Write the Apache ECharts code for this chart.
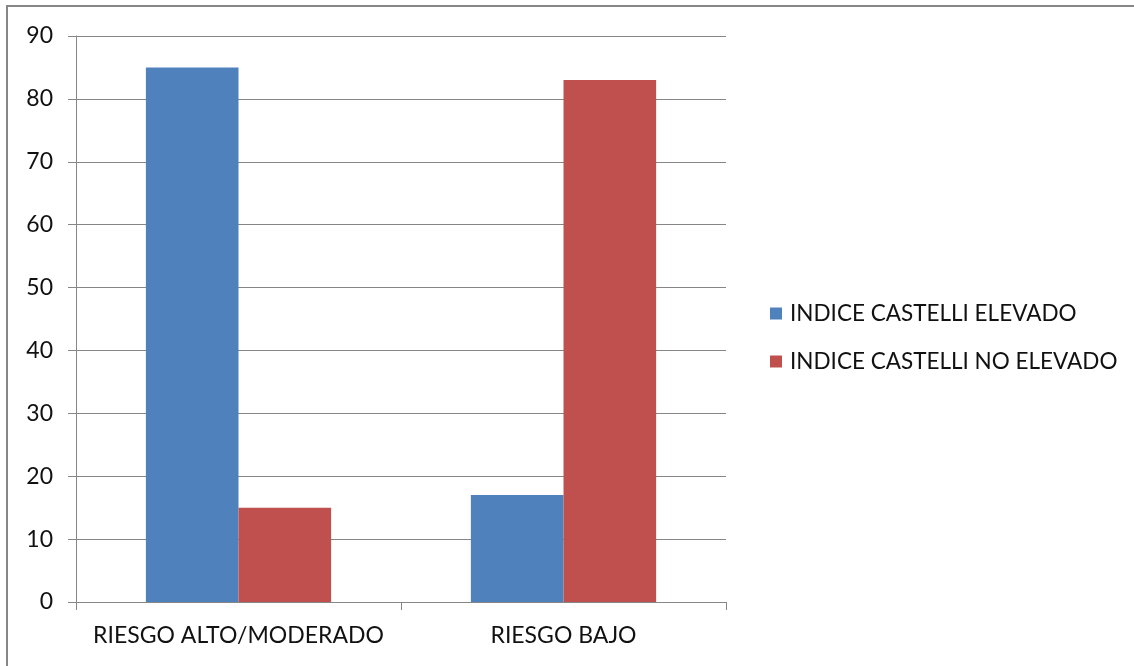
<!DOCTYPE html>
<html>
<head>
<meta charset="utf-8">
<script src="https://cdn.jsdelivr.net/npm/echarts@6/dist/echarts.min.js"></script>
<style>
  html, body { margin: 0; padding: 0; background: #fff; }
  #chart { width: 1134px; height: 666px; }
</style>
</head>
<body>
<div id="chart"></div>
<script>
// Risk categories and the share of each Castelli index group
const categories = ['RIESGO ALTO/MODERADO', 'RIESGO BAJO'];
const seriesNames = ['INDICE CASTELLI ELEVADO', 'INDICE CASTELLI NO ELEVADO'];
const elevado = [85, 17];
const noElevado = [15, 83];
const yTicks = [0, 10, 20, 30, 40, 50, 60, 70, 80, 90];

const FONT = 'Lato, "Open Sans", sans-serif';
const chart = echarts.init(document.getElementById('chart'), null, { renderer: 'canvas' });

chart.setOption({
  backgroundColor: '#ffffff',
  animation: false,
  graphic: [{
    type: 'rect',
    shape: { x: 7, y: 6, width: 1200, height: 700 },
    style: { fill: 'none', stroke: '#878787', lineWidth: 2 },
    silent: true
  }],
  grid: { left: 76, right: 408, top: 36, bottom: 64 },
  legend: {
    orient: 'vertical',
    left: 770,
    top: 302,
    padding: 0,
    itemWidth: 12,
    itemHeight: 12,
    itemGap: 25,
    icon: 'rect',
    data: seriesNames,
    textStyle: { fontFamily: FONT, fontSize: 22.5, color: '#111', padding: [0, 0, 0, 3] }
  },
  xAxis: {
    type: 'category',
    data: categories,
    axisLine: { lineStyle: { color: '#868686', width: 1 } },
    axisTick: { show: true, alignWithLabel: false, length: 8, lineStyle: { color: '#868686' } },
    axisLabel: { fontFamily: FONT, fontSize: 23, color: '#111', margin: 22, interval: 0 }
  },
  yAxis: {
    type: 'value',
    min: yTicks[0],
    max: yTicks[yTicks.length - 1],
    interval: 10,
    axisLine: { show: true, lineStyle: { color: '#868686', width: 1 } },
    axisTick: { show: true, length: 8, lineStyle: { color: '#868686' } },
    splitLine: { lineStyle: { color: '#868686', width: 1 } },
    axisLabel: { fontFamily: FONT, fontSize: 23, color: '#111', margin: 23 }
  },
  series: [
    {
      name: seriesNames[0],
      type: 'bar',
      data: elevado,
      barGap: '0%',
      barCategoryGap: '43%',
      itemStyle: { color: '#4F81BD' }
    },
    {
      name: seriesNames[1],
      type: 'bar',
      data: noElevado,
      barGap: '0%',
      barCategoryGap: '43%',
      itemStyle: { color: '#C0504D' }
    }
  ]
});
</script>
</body>
</html>
